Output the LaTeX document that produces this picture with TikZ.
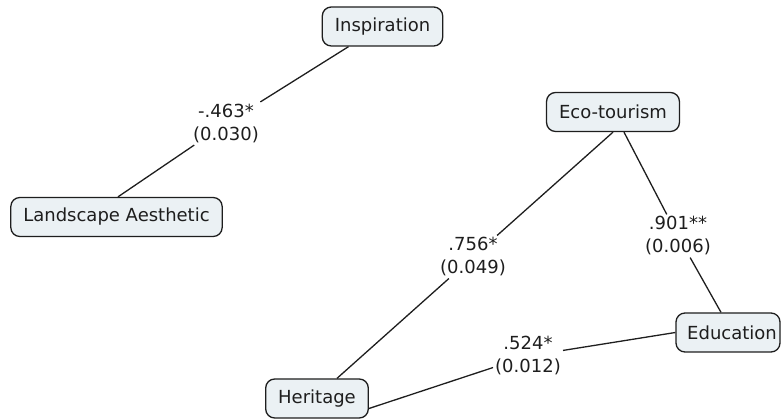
\documentclass[tikz,border=0pt]{standalone}
\usepackage{fontspec}
\setmainfont{DejaVu Sans}
\definecolor{boxfill}{HTML}{EBF1F4}
\definecolor{ink}{HTML}{1E1E1E}
\tikzset{
  concept/.style={draw=ink, fill=boxfill, line width=1.3pt, rounded corners=9pt,
    minimum height=39pt, inner xsep=12.5pt, inner ysep=0pt, text=ink,
    font=\fontsize{18}{22}\selectfont},
  lbl/.style={fill=white, inner sep=2pt, align=center, text=ink,
    font=\fontsize{18}{23}\selectfont},
  link/.style={draw=ink, line width=1.3pt}
}
\begin{document}
\begin{tikzpicture}[x=1pt,y=-1pt]
\useasboundingbox (0,0) rectangle (782,419);
\node[concept] (insp) at (382.5,26.5) {Inspiration};
\node[concept] (la) at (116.5,217) {Landscape Aesthetic};
\node[concept] (eco) at (613,112) {Eco-tourism};
\node[concept, inner xsep=0pt, minimum width=104pt] (edu) at (728,332.5) {\hspace*{8pt}Education};
\node[concept] (her) at (317,398.5) {Heritage};

\node[lbl] (l1) at (226,123.5) {-.463*\\(0.030)};
\node[lbl] (l2) at (473,257) {.756*\\(0.049)};
\node[lbl] (l3) at (678,236) {.901**\\(0.006)};
\node[lbl] (l4) at (528,356) {.524*\\(0.012)};

\draw[link] ([xshift=-34pt]insp.south) -- (l1) -- ([xshift=1.5pt]la.north);
\draw[link] (eco.south) -- (l2) -- ([xshift=20pt]her.north);
\draw[link] ([xshift=11pt]eco.south) -- (l3) -- ([xshift=-7pt]edu.north);
\draw[link] ([yshift=-10pt]her.east) -- (l4) -- (edu.west);
\end{tikzpicture}
\end{document}
